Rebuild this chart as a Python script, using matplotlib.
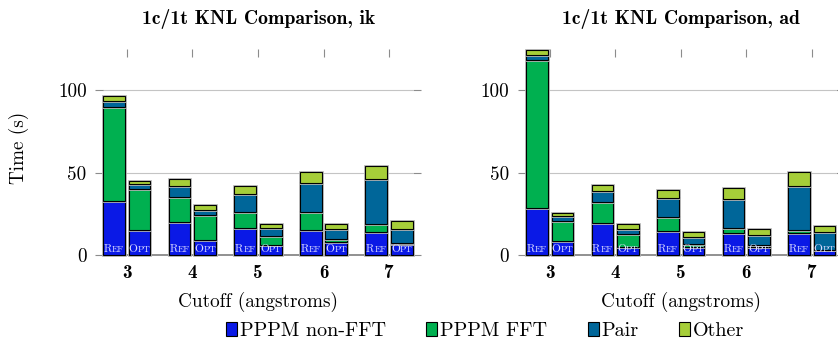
import numpy as np
import matplotlib
matplotlib.use("Agg")
import matplotlib.pyplot as plt
from matplotlib.patches import Patch
import matplotlib.patheffects as pe

plt.rcParams['font.family'] = ['cmr10', 'DejaVu Serif']
plt.rcParams['mathtext.fontset'] = 'cm'
plt.rcParams['axes.unicode_minus'] = False

cutoffs = [3, 4, 5, 6, 7]
series_names = ['PPPM non-FFT', 'PPPM FFT', 'Pair', 'Other']
colors = ['#0a19e6', '#00b050', '#006699', '#a6ce39']

# ik, reference code
ik_ref_nonfft = [32.8, 19.9, 16.3, 15.1, 13.9]
ik_ref_fft = [57.2, 15.5, 9.7, 10.9, 5.2]
ik_ref_pair = [3.2, 6.4, 11.0, 17.8, 26.8]
ik_ref_other = [3.4, 4.1, 5.0, 6.5, 8.2]
# ik, optimized code
ik_opt_nonfft = [15.3, 9.0, 6.5, 8.0, 6.8]
ik_opt_fft = [24.9, 15.1, 5.0, 1.7, 0.8]
ik_opt_pair = [2.7, 3.4, 4.8, 6.0, 8.5]
ik_opt_other = [2.1, 2.7, 2.8, 3.4, 4.6]

# ad, reference code
ad_ref_nonfft = [28.8, 19.5, 14.9, 13.7, 13.3]
ad_ref_fft = [89.3, 12.9, 8.2, 2.8, 2.0]
ad_ref_pair = [3.0, 6.4, 11.7, 17.7, 26.8]
ad_ref_other = [3.2, 4.0, 4.8, 6.7, 8.2]
# ad, optimized code
ad_opt_nonfft = [8.4, 5.0, 5.2, 5.0, 3.0]
ad_opt_fft = [12.5, 8.1, 1.9, 1.2, 0.5]
ad_opt_pair = [2.6, 3.0, 4.2, 6.1, 10.4]
ad_opt_other = [1.8, 2.6, 3.0, 3.4, 4.0]

FS = 13.8
W, H = 838, 340


def stack(ax, xs, parts):
    bottom = np.zeros(len(xs))
    for vals, c in zip(parts, colors):
        bars = ax.bar(xs, vals, 0.33, bottom=bottom, color=c, edgecolor='black',
                      linewidth=0.8, clip_on=False, zorder=3)
        for b in bars:
            b.set_path_effects([pe.Stroke(linewidth=2.0, foreground='#b8b8b8'), pe.Normal()])
        bottom += np.array(vals)


def smallcaps(ax, x, first, rest):
    # fake small caps: big first letter + smaller rest
    ax.annotate(first, (x, 2.2), xytext=(-1.4, 0), textcoords='offset points',
                ha='right', va='baseline', fontsize=8.2, color='#dcdcff', zorder=5,
                annotation_clip=False)
    ax.annotate(rest, (x, 2.2), xytext=(-1.4, 0), textcoords='offset points',
                ha='left', va='baseline', fontsize=6.6, color='#dcdcff', zorder=5,
                annotation_clip=False)


def panel(ax, title, ref, opt):
    x = np.array(cutoffs, dtype=float)
    stack(ax, x - 0.195, ref)
    stack(ax, x + 0.195, opt)
    for xi in x:
        smallcaps(ax, xi - 0.195, 'R', 'EF')
        smallcaps(ax, xi + 0.195, 'O', 'PT')
    ax.set_xlim(2.64, 7.37)
    ax.set_ylim(0, 120)
    ax.set_xticks(cutoffs)
    ax.set_xticklabels([str(c) for c in cutoffs], fontfamily='cmb10', fontsize=FS)
    ax.set_yticks([0, 50, 100])
    ax.yaxis.grid(True, color='#c4c4c4', linewidth=0.8)
    ax.set_axisbelow(True)
    for s in ['left', 'right', 'top']:
        ax.spines[s].set_visible(False)
    ax.spines['bottom'].set_color('#888888')
    ax.spines['bottom'].set_linewidth(1.3)
    ax.tick_params(axis='y', left=True, right=True, direction='out', length=6,
                   width=0.8, color='#8c8c8c', labelsize=FS, pad=6)
    ax.tick_params(axis='x', bottom=False, top=True, labelbottom=True, labeltop=False,
                   direction='out', length=6, width=0.8, color='#8c8c8c', pad=0.3)
    ax.text(0.5, (255.3 - 24) / 198.3, title, transform=ax.transAxes, ha='center',
            va='baseline', fontfamily='cmb10', fontsize=14.2)
    ax.text(0.5, (255.3 - 301.7) / 198.3, 'Cutoff (angstroms)', transform=ax.transAxes,
            ha='center', va='center', fontsize=FS)


fig = plt.figure(figsize=(W / 100, H / 100), dpi=100)
ax1 = fig.add_axes([103.3 / W, 1 - 255.3 / H, 310 / W, 198.3 / H])
ax2 = fig.add_axes([526 / W, 1 - 255.3 / H, 310 / W, 198.3 / H])

panel(ax1, '1c/1t KNL Comparison, ik',
      [ik_ref_nonfft, ik_ref_fft, ik_ref_pair, ik_ref_other],
      [ik_opt_nonfft, ik_opt_fft, ik_opt_pair, ik_opt_other])
panel(ax2, '1c/1t KNL Comparison, ad',
      [ad_ref_nonfft, ad_ref_fft, ad_ref_pair, ad_ref_other],
      [ad_opt_nonfft, ad_opt_fft, ad_opt_pair, ad_opt_other])

fig.text(19 / W, 1 - 148 / H, 'Time (s)', rotation=90, ha='center', va='center', fontsize=FS)

handles = [Patch(facecolor=c, edgecolor='black', linewidth=0.8) for c in colors]
fig.legend(handles, series_names, loc='center', bbox_to_anchor=(485 / W, 1 - 331 / H),
           ncol=4, frameon=False, fontsize=14.5, handlelength=0.55, handleheight=0.7,
           handletextpad=0.15, columnspacing=2.0, borderpad=0, borderaxespad=0)

fig.savefig('out.png', dpi=100)
